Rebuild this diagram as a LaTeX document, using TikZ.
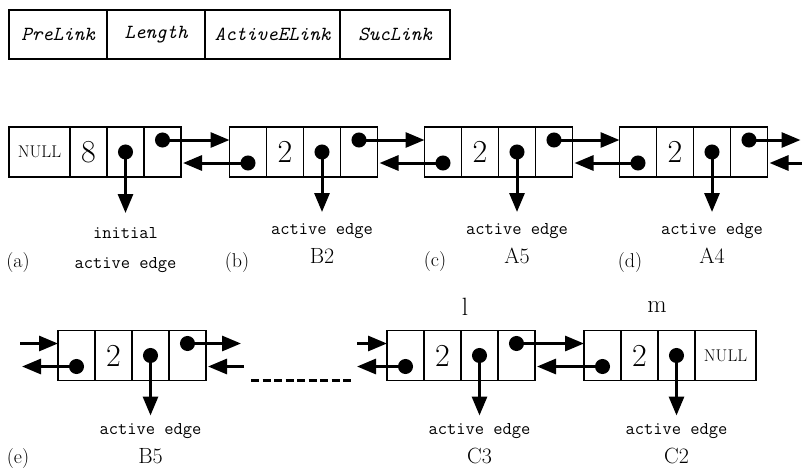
\documentclass[tikz,border=0pt]{standalone}
\usepackage{tikz}
\usetikzlibrary{positioning, arrows.meta}

\tikzset{
  cell/.style={draw, line width=1.2pt, minimum width=37pt, minimum height=50pt,
    inner sep=0pt, outer sep=0pt, font=\fontsize{32}{32}\selectfont},
  nullcell/.style={cell, minimum width=61pt, font=\fontsize{17}{17}\selectfont},
  hdr/.style={draw, line width=1.2pt, minimum height=49pt, inner sep=0pt,
    outer sep=0pt, font=\ttfamily\itshape\fontsize{20}{20}\selectfont},
  ptr/.style={line width=3pt, {Circle[length=15pt]}-{Triangle[length=19pt,width=15pt]},
    shorten <=-7.5pt},
  arr/.style={line width=3pt, -{Triangle[length=19pt,width=15pt]}},
  lbl/.style={align=center, inner sep=0pt, font=\ttfamily\fontsize{18}{28}\selectfont},
  tag/.style={font=\fontsize{20}{20}\selectfont},
}

\begin{document}
\begin{tikzpicture}[x=1pt, y=-1pt]
    \useasboundingbox (0,0) rectangle (802,469);

    % record layout
    \node[hdr, minimum width=98pt] (pre) at (58,34.5) {PreLink};
    \node[hdr, minimum width=98pt, right=0pt of pre] (len) {Length};
    \node[hdr, minimum width=135pt, right=0pt of len] (act) {ActiveELink};
    \node[hdr, minimum width=110pt, right=0pt of act] (suc) {SucLink};

    % first row
    \node[nullcell] (a1) at (39.5,152) {NULL};
    \node[cell, right=0pt of a1] (a2) {8};
    \node[cell, right=0pt of a2] (a3) {};
    \node[cell, right=0pt of a3] (a4) {};
    \foreach \n/\x/\y in {b/248/152, c/443/152, d/638/152, e/76.5/355.5, l/405.5/355.5} {
        \node[cell] (\n1) at (\x,\y) {};
        \node[cell, right=0pt of \n1] (\n2) {2};
        \node[cell, right=0pt of \n2] (\n3) {};
        \node[cell, right=0pt of \n3] (\n4) {};
    }
    % last record
    \node[cell] (m1) at (602.5,355.5) {};
    \node[cell, right=0pt of m1] (m2) {2};
    \node[cell, right=0pt of m2] (m3) {};
    \node[nullcell, right=0pt of m3] (m4) {NULL};

    \node[font=\fontsize{25}{25}\selectfont] (ltop) at (465,307) {l};
    \node[font=\fontsize{25}{25}\selectfont] (mtop) at (657,307) {m};

    % active edge labels
    \node[lbl, below=75pt of a3.center] (laba) {initial\\[2pt]active edge};
    \foreach \n/\t/\d in {b/B2/71, c/A5/71, d/A4/71, e/B5/68, l/C3/68, m/C2/68}
        \node[lbl, below=\d pt of \n3.center] (lab\n)
            {active edge\\[1pt]{\rmfamily\fontsize{22}{22}\selectfont \t}};

    \node[tag] (ta) at (18,263) {(a)};
    \node[tag] (tb) at (237,263) {(b)};
    \node[tag] (tc) at (435,262) {(c)};
    \node[tag] (td) at (630,263) {(d)};
    \node[tag] (te) at (18,459) {(e)};

    % links
    \foreach \p/\q in {a/b, b/c, c/d, l/m}
        \draw[ptr] ([yshift=12pt]\p4.center) -- ([yshift=12pt]\q1.west);
    \foreach \p/\q in {b/a, c/b, d/c, m/l}
        \draw[ptr, shorten >=2pt] ([yshift=-11pt]\p1.center) -- ([yshift=-11pt]\q4.east);
    \draw[ptr, shorten >=14pt] (a3.center) -- (laba.north);
    \foreach \n/\s in {b/11, c/11, d/11, e/8, l/8, m/8}
        \draw[ptr, shorten >=\s pt] (\n3.center) -- (lab\n.north);

    % open ends
    \coordinate (dout) at ([xshift=33pt,yshift=12pt]d4.east);
    \coordinate (din) at ([xshift=35pt,yshift=-11pt]d4.east);
    \coordinate (ein) at ([xshift=-38pt,yshift=12pt]e1.west);
    \coordinate (eout) at ([xshift=-36pt,yshift=-11pt]e1.west);
    \coordinate (eout2) at ([xshift=35pt,yshift=12pt]e4.east);
    \coordinate (ein2) at ([xshift=38pt,yshift=-11pt]e4.east);
    \coordinate (lin) at ([xshift=-30pt,yshift=12pt]l1.west);
    \coordinate (lout) at ([xshift=-30pt,yshift=-11pt]l1.west);

    \draw[ptr] ([yshift=12pt]d4.center) -- (dout);
    \draw[arr, shorten >=2pt] (din) -- ([yshift=-11pt]d4.east);
    \draw[arr] (ein) -- ([yshift=12pt]e1.west);
    \draw[ptr] ([yshift=-11pt]e1.center) -- (eout);
    \draw[ptr] ([yshift=12pt]e4.center) -- (eout2);
    \draw[arr, shorten >=2pt] (ein2) -- ([yshift=-11pt]e4.east);
    \draw[arr] (lin) -- ([yshift=12pt]l1.west);
    \draw[ptr] ([yshift=-11pt]l1.center) -- (lout);

    % gap between records
    \draw[line width=3pt, dash pattern=on 8pt off 3.5pt]
        ([xshift=45pt]e4.south east) -- ([xshift=-34pt]l1.south west);
\end{tikzpicture}
\end{document}
